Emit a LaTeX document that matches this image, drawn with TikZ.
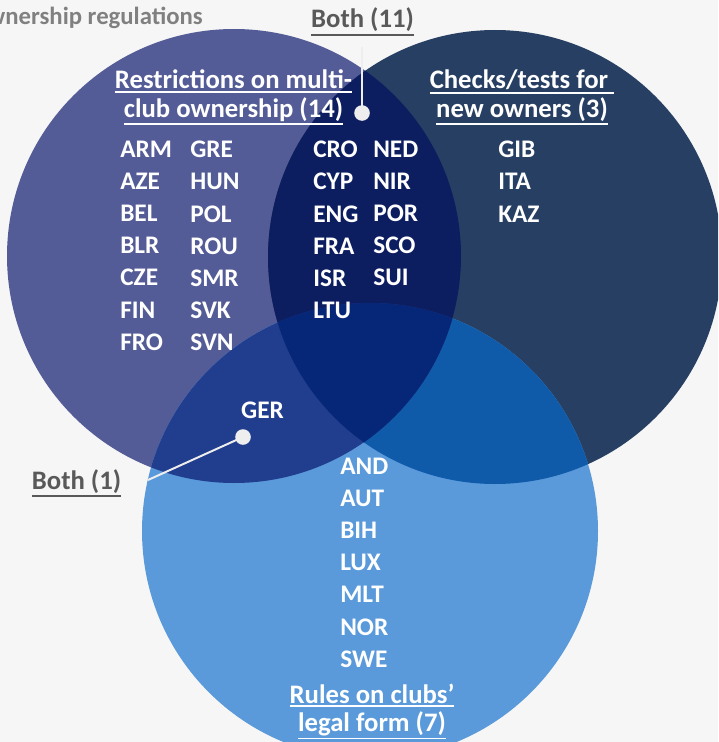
\documentclass[tikz,border=0pt]{standalone}
\usepackage{fontspec}
\setmainfont{Carlito}
\usetikzlibrary{positioning}
\definecolor{paper}{HTML}{F6F6F6}
\definecolor{restrblue}{HTML}{545C97}
\definecolor{checkblue}{HTML}{263F62}
\definecolor{rulesblue}{HTML}{5A9ADA}
\definecolor{lrblue}{HTML}{0D1E60}
\definecolor{lbblue}{HTML}{213D8E}
\definecolor{rbblue}{HTML}{0F5BAA}
\definecolor{allblue}{HTML}{062677}
\definecolor{notegray}{HTML}{595959}
\definecolor{titlegray}{HTML}{808080}
\definecolor{leadgray}{HTML}{EEEEEE}
\newcommand{\undl}[1]{\vtop{\hbox{#1}\kern1.4pt\hrule height 1.3pt}}

\begin{document}
\begin{tikzpicture}[
x=0.025cm, y=-0.025cm,
lbl/.style={font=\bfseries\fontsize{19}{20.1}\selectfont, text=white, inner sep=0},
codes/.style={lbl, font=\bfseries\fontsize{18}{22.8}\selectfont, align=left, anchor=north west},
head/.style={lbl, anchor=base},
note/.style={head, text=notegray},
knob/.style={circle, fill=leadgray, minimum size=0.39cm, inner sep=0},
lead/.style={draw=leadgray, line width=1.4pt}
]
\useasboundingbox (0,0) rectangle (718,742);
\clip (0,0) rectangle (718,742);
\fill[paper] (0,0) rectangle (718,742);

% circle centres
\coordinate (cl) at (234,256);
\coordinate (cr) at (495,257);
\coordinate (cb) at (370,531);

% the three sets and their overlaps
\fill[restrblue] (cl) circle[radius=227];
\fill[checkblue] (cr) circle[radius=227];
\fill[rulesblue] (cb) circle[radius=228];
\begin{scope}
\clip (cr) circle[radius=227];
\fill[rbblue] (cb) circle[radius=228];
\end{scope}
\begin{scope}
\clip (cl) circle[radius=227];
\fill[lrblue] (cr) circle[radius=227];
\fill[lbblue] (cb) circle[radius=228];
\clip (cr) circle[radius=227];
\fill[allblue] (cb) circle[radius=228];
\end{scope}

\node[lbl, font=\bfseries\fontsize{17.6}{20}\selectfont, text=titlegray, anchor=base east] (title) at (203,25) {ownership regulations};

% headings
\node[head] (restr) at (233.5,88.7) {\undl{Restrictions on multi-}};
\node[head] (restr2) at (233.5,117) {\undl{club ownership (14)}};
\node[head] (checks) at (522,88.7) {\undl{Checks/tests for }};
\node[head] (checks2) at (522,117) {\undl{new owners (3)}};
\node[head] (rules) at (372,703) {\undl{Rules on clubs’}};
\node[head] (rules2) at (372,731) {\undl{legal form (7)}};

% countries
\node[codes] (col1) at (120,141) {ARM\\AZE\\BEL\\BLR\\CZE\\FIN\\FRO};
\node[codes] (col2) at (190,141) {GRE\\HUN\\POL\\ROU\\SMR\\SVK\\SVN};
\node[codes] (mid1) at (313,141) {CRO\\CYP\\ENG\\FRA\\ISR\\LTU};
\node[codes] (mid2) at (373,141) {NED\\NIR\\POR\\SCO\\SUI};
\node[codes] (chk) at (498,141) {GIB\\ITA\\KAZ};
\node[codes] (legal) at (340,458) {AND\\AUT\\BIH\\LUX\\MLT\\NOR\\SWE};
\node[head, font=\bfseries\fontsize{18}{22.8}\selectfont] (ger) at (262.5,418) {GER};

% callouts
\node[note] (both11) at (362.5,28) {\undl{Both (11)}};
\node[note] (both1) at (76.5,489) {\undl{Both (1)}};
\coordinate (lead11) at (362,47);
\coordinate (lead1) at (148,480);
\node[knob] (dot11) at (362,113) {};
\node[knob] (dot1) at (243,437) {};
\draw[lead] (lead11) -- (dot11.center);
\draw[lead] (dot1.center) -- (lead1);
\end{tikzpicture}
\end{document}
